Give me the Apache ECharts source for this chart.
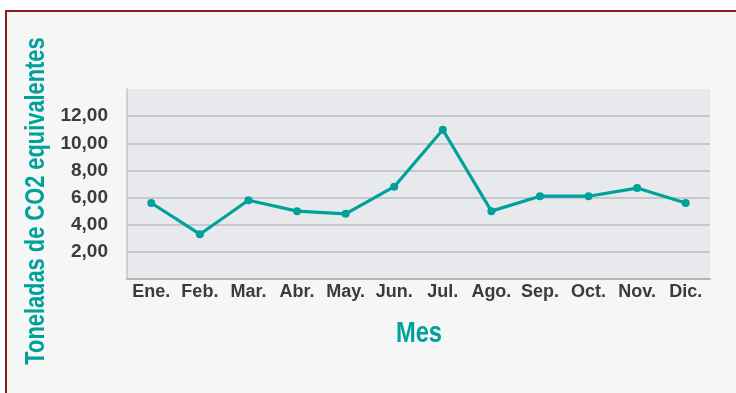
<!DOCTYPE html>
<html>
<head>
<meta charset="utf-8">
<script src="https://cdn.jsdelivr.net/npm/echarts@6/dist/echarts.min.js"></script>
<style>
  html, body { margin: 0; padding: 0; background: #ffffff; }
  #chart { width: 736px; height: 393px; }
</style>
</head>
<body>
<div id="chart"></div>
<script>
// Monthly emissions, tonnes of CO2 equivalent
const months = ['Ene.', 'Feb.', 'Mar.', 'Abr.', 'May.', 'Jun.', 'Jul.', 'Ago.', 'Sep.', 'Oct.', 'Nov.', 'Dic.'];
const emissions = [5.6, 3.3, 5.8, 5.0, 4.8, 6.8, 11.0, 5.0, 6.1, 6.1, 6.7, 5.6];
const yTitle = 'Toneladas de CO2 equivalentes';
const xTitle = 'Mes';

const FONT = '"Liberation Sans", Arial, sans-serif';
const TEAL = '#00A19A';
const INK = '#3B3A3C';
const GRID = '#BDBDC2';

const chart = echarts.init(document.getElementById('chart'), null, { renderer: 'canvas' });

chart.setOption({
  backgroundColor: '#ffffff',
  animation: false,
  graphic: [
    // panel with the dark red frame
    {
      type: 'rect', z: -10, silent: true,
      shape: { x: 6, y: 11, width: 760, height: 420 },
      style: { fill: '#F5F7F6', stroke: '#8C1A1F', lineWidth: 2 }
    },
    // vertical axis title, condensed horizontally
    {
      type: 'text', z: 10,
      x: 36, y: 201, rotation: Math.PI / 2, scaleX: 0.78,
      style: {
        text: yTitle, fill: TEAL, font: 'bold 28px ' + FONT,
        align: 'center', verticalAlign: 'middle'
      }
    },
    // horizontal axis title
    {
      type: 'text', z: 10,
      x: 419, y: 334, scaleX: 0.79,
      style: {
        text: xTitle, fill: TEAL, font: 'bold 30px ' + FONT,
        align: 'center', verticalAlign: 'middle'
      }
    }
  ],
  grid: {
    left: 127, right: 26, top: 89, bottom: 114,
    show: true, backgroundColor: '#E8E9ED', borderWidth: 0
  },
  xAxis: {
    type: 'category',
    data: months,
    boundaryGap: true,
    axisTick: { show: false },
    axisLine: { lineStyle: { color: '#B5B5B8', width: 2 } },
    axisLabel: {
      color: INK, fontFamily: FONT, fontWeight: 'bold', fontSize: 18,
      margin: 4, interval: 0
    }
  },
  yAxis: {
    type: 'value',
    min: 0, max: 14, interval: 2,
    axisLine: { show: true, lineStyle: { color: '#C4C4C8', width: 1.5 } },
    axisTick: { show: false },
    splitLine: {
      show: true,
      lineStyle: {
        color: [GRID, GRID, GRID, GRID, GRID, GRID, GRID, 'rgba(0,0,0,0)'],
        width: 1.5
      }
    },
    axisLabel: {
      color: INK, fontFamily: FONT, fontWeight: 'bold', fontSize: 19,
      margin: 19,
      formatter: function (v) {
        if (v === 0 || v === 14) return '';
        return v.toFixed(2).replace('.', ',');
      }
    }
  },
  series: [{
    type: 'line',
    data: emissions,
    symbol: 'circle',
    symbolSize: 8,
    lineStyle: { color: TEAL, width: 3.2 },
    itemStyle: { color: TEAL }
  }]
});
</script>
</body>
</html>
